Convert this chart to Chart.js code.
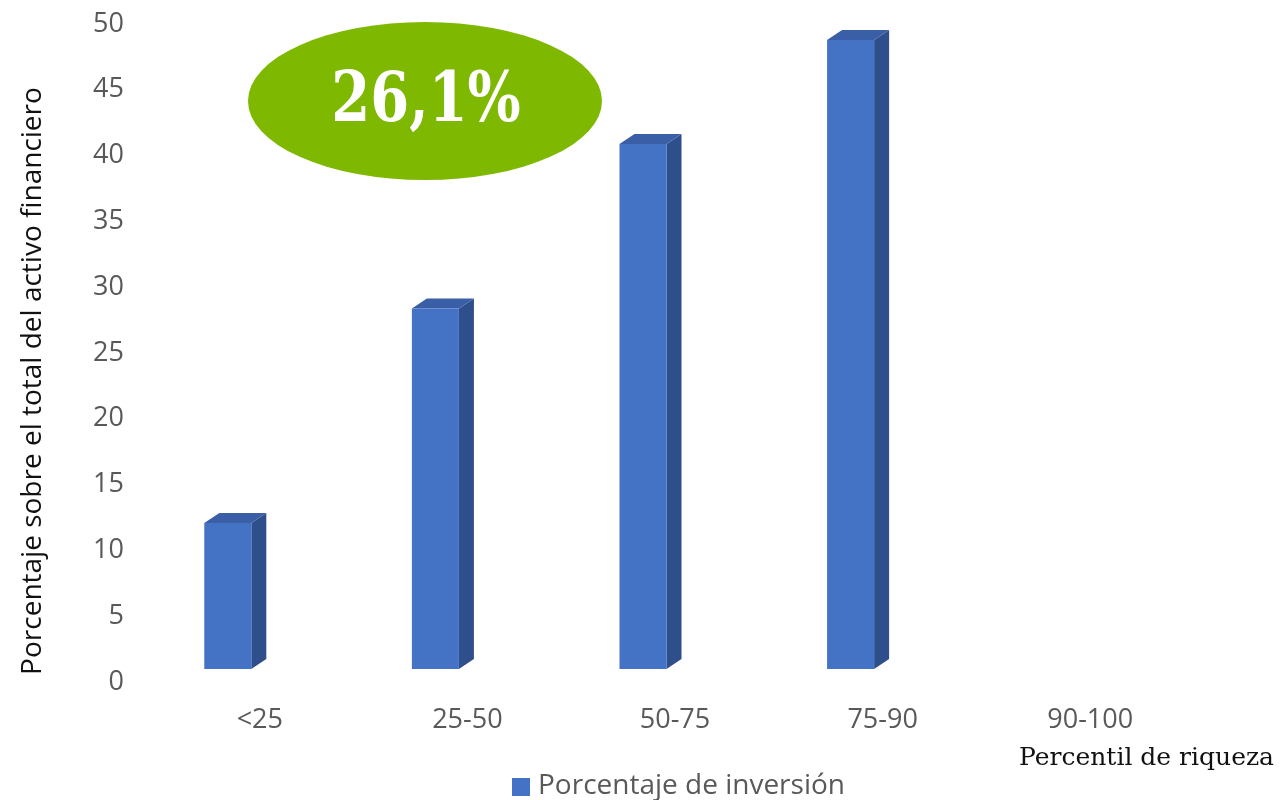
<!DOCTYPE html>
<html lang="es">
<head>
<meta charset="utf-8">
<title>Porcentaje de inversión por percentil de riqueza</title>
<script src="https://cdn.jsdelivr.net/npm/chart.js@4.4.1/dist/chart.umd.min.js"></script>
<style>
  html, body { margin: 0; padding: 0; background: #fff; }
  #wrap { position: relative; width: 1281px; height: 800px; }
</style>
</head>
<body>
<div id="wrap"><canvas id="grafica" width="1281" height="800"></canvas></div>
<script>
// datos
const categorias = ["<25", "25-50", "50-75", "75-90", "90-100"];
const porcentajeInversion = [11.1, 27.4, 39.9, 47.8, null];
const ticksY = [0, 5, 10, 15, 20, 25, 30, 35, 40, 45, 50];
const etiquetaSerie = "Porcentaje de inversión";
const tituloY = "Porcentaje sobre el total del activo financiero";
const tituloX = "Percentil de riqueza";
const destacado = "26,1%";

const azul = "#4472C4";
const azulLado = "#2F4F8C";
const azulTecho = "#3A5FA6";
const gris = "#595959";

// profundidad del efecto 3D
const prof = { dx: 15, dy: -10 };

const caras3D = {
  id: "caras3D",
  beforeDatasetsDraw(chart) {
    const ctx = chart.ctx;
    const meta = chart.getDatasetMeta(0);
    meta.data.forEach((bar, i) => {
      if (porcentajeInversion[i] == null) return;
      const { x, y, base, width } = bar.getProps(["x", "y", "base", "width"], true);
      const izq = x - width / 2, der = x + width / 2;
      ctx.save();
      // lateral
      ctx.fillStyle = azulLado;
      ctx.beginPath();
      ctx.moveTo(der, y);
      ctx.lineTo(der + prof.dx, y + prof.dy);
      ctx.lineTo(der + prof.dx, base + prof.dy);
      ctx.lineTo(der, base);
      ctx.closePath();
      ctx.fill();
      // techo
      ctx.fillStyle = azulTecho;
      ctx.beginPath();
      ctx.moveTo(izq, y);
      ctx.lineTo(izq + prof.dx, y + prof.dy);
      ctx.lineTo(der + prof.dx, y + prof.dy);
      ctx.lineTo(der, y);
      ctx.closePath();
      ctx.fill();
      ctx.restore();
    });
  },
  afterDraw(chart) {
    const ctx = chart.ctx;
    ctx.save();
    // titulo eje Y
    ctx.translate(33, 381);
    ctx.rotate(-Math.PI / 2);
    ctx.fillStyle = "#111";
    ctx.font = "28px 'Open Sans'";
    ctx.textAlign = "center";
    ctx.textBaseline = "middle";
    ctx.fillText(tituloY, 0, 0);
    ctx.restore();

    // titulo eje X
    ctx.save();
    ctx.fillStyle = "#111";
    ctx.font = "25px 'DejaVu Serif'";
    ctx.textAlign = "right";
    ctx.textBaseline = "middle";
    ctx.fillText(tituloX, 1274, 758);
    ctx.restore();

    // leyenda
    ctx.save();
    ctx.fillStyle = azul;
    ctx.fillRect(512, 778, 18, 18);
    ctx.fillStyle = gris;
    ctx.font = "28px 'Open Sans'";
    ctx.textAlign = "left";
    ctx.textBaseline = "middle";
    ctx.fillText(etiquetaSerie, 538, 786);
    ctx.restore();

    // óvalo verde
    ctx.save();
    ctx.fillStyle = "#7FB800";
    ctx.beginPath();
    ctx.ellipse(425, 101, 177, 79, 0, 0, Math.PI * 2);
    ctx.fill();
    ctx.translate(426, 103);
    ctx.scale(0.8, 1);
    ctx.fillStyle = "#fff";
    ctx.font = "bold 70px 'DejaVu Serif'";
    ctx.textAlign = "center";
    ctx.textBaseline = "middle";
    ctx.fillText(destacado, 0, 0);
    ctx.restore();
  }
};

new Chart(document.getElementById("grafica"), {
  type: "bar",
  data: {
    labels: categorias,
    datasets: [{
      label: etiquetaSerie,
      data: porcentajeInversion,
      backgroundColor: azul,
      categoryPercentage: 1,
      barPercentage: 0.2265
    }]
  },
  options: {
    responsive: false,
    animation: false,
    layout: { padding: { left: 0, top: 11, right: 119, bottom: 0 } },
    plugins: { legend: { display: false }, tooltip: { enabled: false } },
    scales: {
      x: {
        grid: { display: false, drawTicks: false },
        border: { display: false },
        ticks: { color: gris, font: { family: "'Open Sans'", size: 27 }, padding: 35, labelOffset: 32, maxRotation: 0 },
        afterFit(scale) { scale.height = 131; scale.paddingLeft = 0; scale.paddingRight = 0; }
      },
      y: {
        min: 0, max: 50,
        clip: false,
        afterBuildTicks(scale) { scale.ticks = ticksY.map(v => ({ value: v })); },
        grid: { display: false, drawTicks: false },
        border: { display: false },
        ticks: { color: gris, font: { family: "'Open Sans'", size: 27 }, padding: 0, labelOffset: 13 },
        afterFit(scale) { scale.width = 124; scale.paddingTop = 0; scale.paddingBottom = 0; }
      }
    }
  },
  plugins: [caras3D]
});
</script>
</body>
</html>
